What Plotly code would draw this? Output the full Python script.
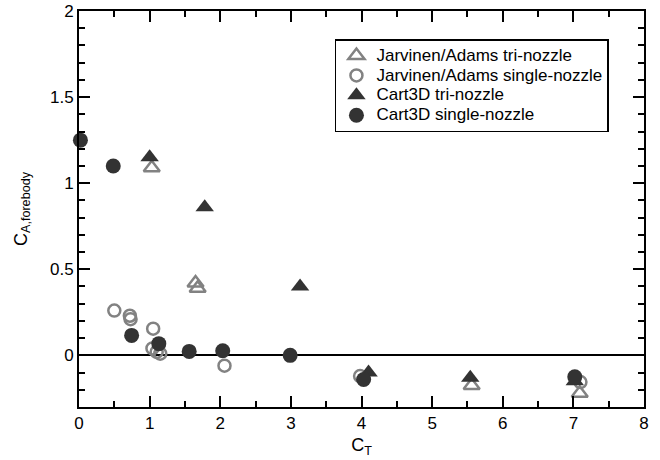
import plotly.graph_objects as go

# Data
j_tri_x = [1.03, 1.65, 1.68, 5.56, 7.09]
j_tri_y = [1.09, 0.42, 0.39, -0.175, -0.22]

j_single_x = [0.50, 0.72, 0.73, 1.05, 1.04, 1.10, 1.15, 2.06, 3.98, 7.10]
j_single_y = [0.26, 0.23, 0.21, 0.155, 0.04, 0.02, 0.01, -0.06, -0.12, -0.155]

c_tri_x = [1.00, 1.78, 3.13, 4.10, 5.54, 7.02]
c_tri_y = [1.15, 0.86, 0.40, -0.10, -0.13, -0.15]

c_single_x = [0.02, 0.485, 0.745, 1.13, 1.56, 2.035, 2.99, 4.03, 7.02]
c_single_y = [1.25, 1.10, 0.116, 0.068, 0.023, 0.027, 0.0, -0.14, -0.125]

series_names = ["Jarvinen/Adams tri-nozzle", "Jarvinen/Adams single-nozzle",
                "Cart3D tri-nozzle", "Cart3D single-nozzle"]

GRAY = "#828282"
DARK = "#333333"
FONT = "Liberation Sans, Arial, Helvetica, sans-serif"


def lname(s):
    return '<span style="font-size:17px">' + s + '</span>'


fig = go.Figure()
fig.add_trace(go.Scatter(
    x=j_tri_x, y=j_tri_y, mode="markers", name=lname(series_names[0]),
    marker=dict(symbol="triangle-up-open", size=14, color=GRAY, line=dict(width=2.5, color=GRAY)),
    cliponaxis=False))
fig.add_trace(go.Scatter(
    x=j_single_x, y=j_single_y, mode="markers", name=lname(series_names[1]),
    marker=dict(symbol="circle-open", size=12, color=GRAY, line=dict(width=2.5, color=GRAY)),
    cliponaxis=False))
fig.add_trace(go.Scatter(
    x=c_tri_x, y=c_tri_y, mode="markers", name=lname(series_names[2]),
    marker=dict(symbol="triangle-up", size=16, color=DARK, line=dict(width=0)),
    cliponaxis=False))
fig.add_trace(go.Scatter(
    x=c_single_x, y=c_single_y, mode="markers", name=lname(series_names[3]),
    marker=dict(symbol="circle", size=15, color=DARK, line=dict(width=0)),
    cliponaxis=False))

axis_common = dict(
    showline=True, linecolor="black", linewidth=2, mirror="ticks",
    ticks="inside", ticklen=11, tickwidth=1.5, tickcolor="black",
    showgrid=False, automargin=False, ticklabeloverflow="allow",
    tickfont=dict(family=FONT, size=17, color="black"),
)

fig.update_xaxes(
    range=[0, 8], dtick=1, tick0=0,
    minor=dict(dtick=0.5, ticks="inside", ticklen=6, tickwidth=1.5, tickcolor="black", showgrid=False),
    zeroline=False,
    title=dict(text="C<sub>T</sub>", font=dict(family=FONT, size=18, color="black"), standoff=6),
    **axis_common)
fig.update_yaxes(
    range=[-0.3, 2], dtick=0.5, tick0=0,
    minor=dict(dtick=0.1, ticks="inside", ticklen=6, tickwidth=1.5, tickcolor="black", showgrid=False),
    zeroline=True, zerolinecolor="black", zerolinewidth=2,
    title=dict(text="C<sub>A,forebody</sub>", font=dict(family=FONT, size=18, color="black"), standoff=18),
    **axis_common)

fig.update_layout(
    width=660, height=460,
    margin=dict(l=79, r=16, t=11, b=53, autoexpand=False),
    plot_bgcolor="white", paper_bgcolor="white",
    font=dict(family=FONT, color="black"),
    legend=dict(
        x=0.453, y=0.929, xanchor="left", yanchor="top",
        bordercolor="black", borderwidth=1.5, bgcolor="white",
        font=dict(family=FONT, size=13, color="black"),
        tracegroupgap=0, itemwidth=30, itemsizing="trace",
    ),
    showlegend=True,
)

# Remove the default page margin so the 660x460 figure fills the window exactly.
fig.write_html("out.html", config={"displayModeBar": False},
               post_script="document.body.style.margin='0';")
